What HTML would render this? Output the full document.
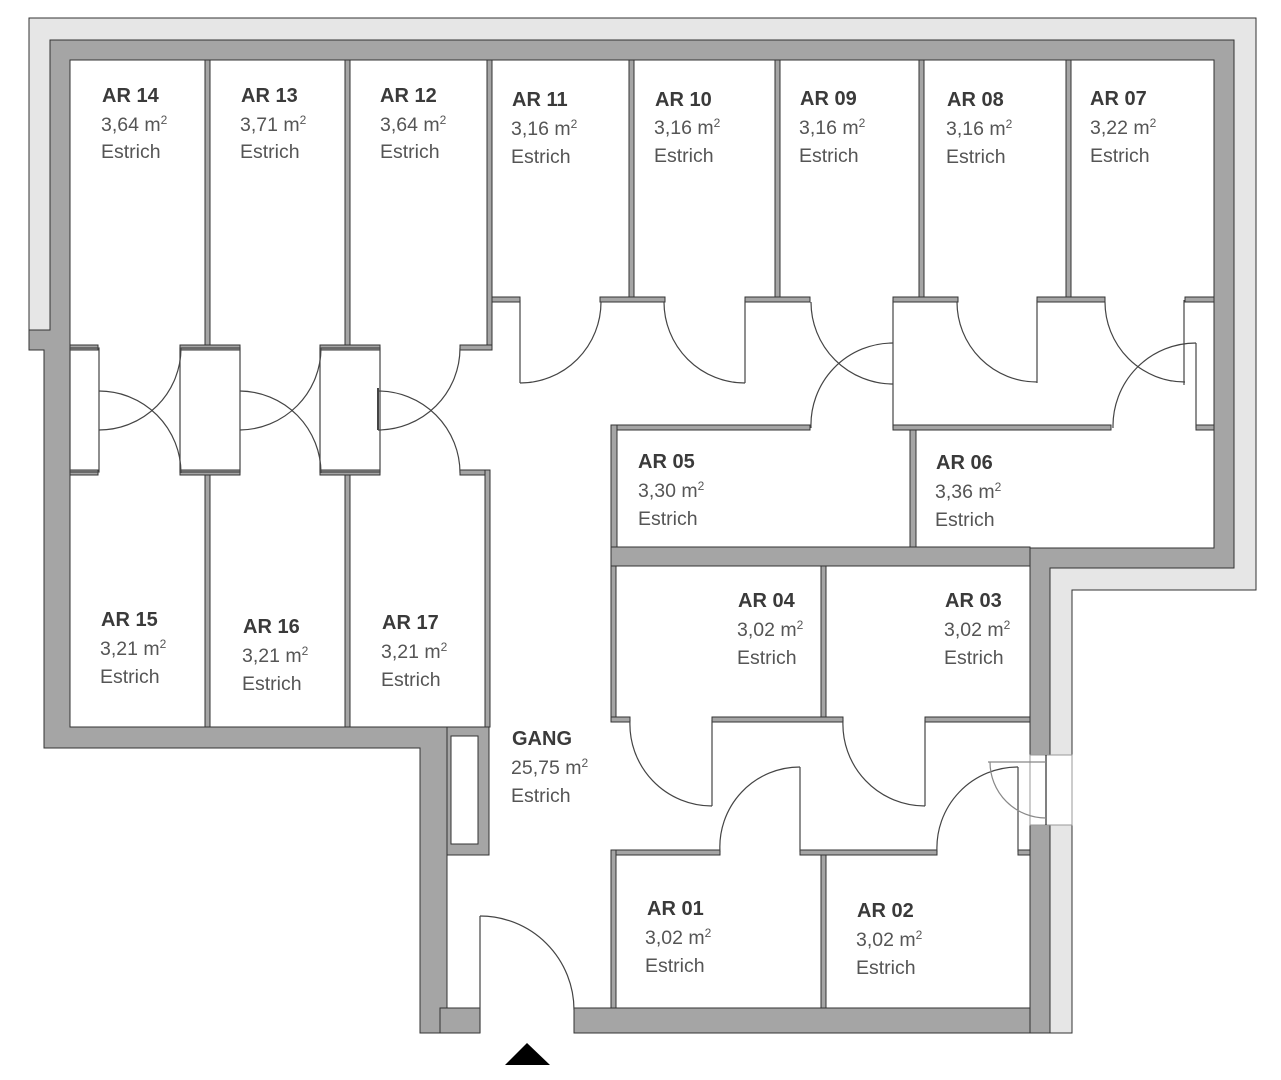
<!DOCTYPE html>
<html><head><meta charset="utf-8"><style>
html,body{margin:0;padding:0;background:#fff;}
svg{display:block}
.b{font:bold 20px "Liberation Sans",sans-serif;fill:#3a3a3a}
.n{font:19.5px "Liberation Sans",sans-serif;fill:#555}
.s{font-size:12px}
</style></head><body>
<svg width="1281" height="1080" viewBox="0 0 1281 1080" xmlns="http://www.w3.org/2000/svg">
<g stroke="#333" stroke-width="1">
<path d="M29 18 H1256 V590 H1072 V1033 H1050 V568 H1234 V40 H50 V330 H29 Z" fill="#e6e6e6"/>
<path d="M50 40 H1234 V568 H1050 V1033 H1030 V548 H1214 V60 H70 V727 H447 V1033 H420 V748 H44 V350 H29 V330 H50 Z" fill="#a5a5a5"/>
<rect x="574" y="1008" width="456" height="25" fill="#a5a5a5"/>
<rect x="440" y="1008" width="40" height="25" fill="#a5a5a5"/>
<rect x="1030" y="755" width="42" height="70" fill="#fff" stroke="#999"/>
<line x1="1046" y1="755" x2="1046" y2="825" stroke="#000"/>
<rect x="447" y="727" width="42" height="128" fill="#a5a5a5"/>
<rect x="451" y="736" width="27" height="108" fill="#fff"/>
<rect x="611" y="547" width="419" height="19" fill="#a5a5a5"/>
<g fill="#a5a5a5">
<rect x="205" y="60" width="5" height="288"/>
<rect x="345" y="60" width="5" height="288"/>
<rect x="487" y="60" width="5" height="288"/>
<rect x="629" y="60" width="5" height="240"/>
<rect x="775" y="60" width="5" height="240"/>
<rect x="919" y="60" width="5" height="240"/>
<rect x="1066" y="60" width="5" height="240"/>
<rect x="70" y="345" width="28" height="5"/>
<rect x="180" y="345" width="60" height="5"/>
<rect x="320" y="345" width="60" height="5"/>
<rect x="460" y="345" width="32" height="5"/>
<rect x="70" y="470" width="28" height="5"/>
<rect x="180" y="470" width="60" height="5"/>
<rect x="320" y="470" width="60" height="5"/>
<rect x="460" y="470" width="30" height="5"/>
<rect x="205" y="475" width="5" height="252"/>
<rect x="345" y="475" width="5" height="252"/>
<rect x="485" y="470" width="5" height="257"/>
<rect x="492" y="297" width="28" height="5"/>
<rect x="600" y="297" width="65" height="5"/>
<rect x="745" y="297" width="65" height="5"/>
<rect x="893" y="297" width="65" height="5"/>
<rect x="1037" y="297" width="68" height="5"/>
<rect x="1185" y="297" width="29" height="5"/>
<rect x="611" y="425" width="199" height="5"/>
<rect x="893" y="425" width="218" height="5"/>
<rect x="1196" y="425" width="18" height="5"/>
<rect x="611" y="425" width="6" height="122"/>
<rect x="910" y="430" width="6" height="117"/>
<rect x="611" y="566" width="5" height="154"/>
<rect x="821" y="566" width="5" height="154"/>
<rect x="611" y="717" width="19" height="5"/>
<rect x="712" y="717" width="131" height="5"/>
<rect x="925" y="717" width="105" height="5"/>
<rect x="611" y="850" width="109" height="5"/>
<rect x="800" y="850" width="137" height="5"/>
<rect x="1018" y="850" width="12" height="5"/>
<rect x="611" y="850" width="5" height="158"/>
<rect x="821" y="855" width="5" height="153"/>
</g>
</g>
<g fill="none" stroke="#444" stroke-width="1.2">
<rect x="70" y="348" width="29" height="124"/>
<rect x="180" y="348" width="60" height="124"/>
<rect x="320" y="348" width="60" height="124"/>
<path d="M99 391 A82 82 0 0 1 181 473"/>
<path d="M99 430 A82 82 0 0 0 181 348"/>
<path d="M240 391 A82 82 0 0 1 321 473"/>
<path d="M240 430 A82 82 0 0 0 321 348"/>
<path d="M378 391 A82 82 0 0 1 460 473"/>
<path d="M378 430 A82 82 0 0 0 460 348"/>
<line x1="378" y1="388" x2="378" y2="430" stroke-width="2"/>
<line x1="520" y1="300" x2="520" y2="383"/>
<path d="M520 383 A81 81 0 0 0 601 302"/>
<line x1="745" y1="300" x2="745" y2="383"/>
<path d="M664 302 A81 81 0 0 0 745 383"/>
<polyline points="893,300 893,428"/>
<path d="M811 302 A82 82 0 0 0 893 384"/>
<line x1="1037" y1="300" x2="1037" y2="383"/>
<path d="M957 302 A80 80 0 0 0 1037 382"/>
<line x1="1184" y1="300" x2="1184" y2="385"/>
<path d="M1105 302 A80 80 0 0 0 1185 382"/>
<line x1="1196" y1="343" x2="1196" y2="428"/>
<path d="M1113 428 A83 83 0 0 1 1196 343"/>
<path d="M811 428 A82 82 0 0 1 893 343"/>
<line x1="712" y1="720" x2="712" y2="806"/>
<path d="M630 720 A82 82 0 0 0 712 806"/>
<line x1="925" y1="720" x2="925" y2="806"/>
<path d="M843 720 A82 82 0 0 0 925 806"/>
<line x1="800" y1="767" x2="800" y2="852"/>
<path d="M720 852 A80 80 0 0 1 800 767"/>
<line x1="1018" y1="767" x2="1018" y2="852"/>
<path d="M937 852 A81 81 0 0 1 1018 767"/>
<path d="M988 762 H1046" stroke="#888"/>
<path d="M990 762 A56 56 0 0 0 1046 818" stroke="#888"/>
<line x1="480" y1="916" x2="480" y2="1033"/>
<path d="M480 916 A94 94 0 0 1 574 1010"/>
</g>
<polygon points="505,1065 527,1043 550,1065" fill="#000"/>
<g>
<text class="b" x="102" y="102">AR 14</text><text class="n" x="101" y="131">3,64 m<tspan class="s" dy="-7">2</tspan></text><text class="n" x="101" y="158">Estrich</text>
<text class="b" x="241" y="102">AR 13</text><text class="n" x="240" y="131">3,71 m<tspan class="s" dy="-7">2</tspan></text><text class="n" x="240" y="158">Estrich</text>
<text class="b" x="380" y="102">AR 12</text><text class="n" x="380" y="131">3,64 m<tspan class="s" dy="-7">2</tspan></text><text class="n" x="380" y="158">Estrich</text>
<text class="b" x="512" y="106">AR 11</text><text class="n" x="511" y="135">3,16 m<tspan class="s" dy="-7">2</tspan></text><text class="n" x="511" y="163">Estrich</text>
<text class="b" x="655" y="106">AR 10</text><text class="n" x="654" y="134">3,16 m<tspan class="s" dy="-7">2</tspan></text><text class="n" x="654" y="162">Estrich</text>
<text class="b" x="800" y="105">AR 09</text><text class="n" x="799" y="134">3,16 m<tspan class="s" dy="-7">2</tspan></text><text class="n" x="799" y="162">Estrich</text>
<text class="b" x="947" y="106">AR 08</text><text class="n" x="946" y="135">3,16 m<tspan class="s" dy="-7">2</tspan></text><text class="n" x="946" y="163">Estrich</text>
<text class="b" x="1090" y="105">AR 07</text><text class="n" x="1090" y="134">3,22 m<tspan class="s" dy="-7">2</tspan></text><text class="n" x="1090" y="162">Estrich</text>
<text class="b" x="638" y="468">AR 05</text><text class="n" x="638" y="497">3,30 m<tspan class="s" dy="-7">2</tspan></text><text class="n" x="638" y="525">Estrich</text>
<text class="b" x="936" y="469">AR 06</text><text class="n" x="935" y="498">3,36 m<tspan class="s" dy="-7">2</tspan></text><text class="n" x="935" y="526">Estrich</text>
<text class="b" x="738" y="607">AR 04</text><text class="n" x="737" y="636">3,02 m<tspan class="s" dy="-7">2</tspan></text><text class="n" x="737" y="664">Estrich</text>
<text class="b" x="945" y="607">AR 03</text><text class="n" x="944" y="636">3,02 m<tspan class="s" dy="-7">2</tspan></text><text class="n" x="944" y="664">Estrich</text>
<text class="b" x="101" y="626">AR 15</text><text class="n" x="100" y="655">3,21 m<tspan class="s" dy="-7">2</tspan></text><text class="n" x="100" y="683">Estrich</text>
<text class="b" x="243" y="633">AR 16</text><text class="n" x="242" y="662">3,21 m<tspan class="s" dy="-7">2</tspan></text><text class="n" x="242" y="690">Estrich</text>
<text class="b" x="382" y="629">AR 17</text><text class="n" x="381" y="658">3,21 m<tspan class="s" dy="-7">2</tspan></text><text class="n" x="381" y="686">Estrich</text>
<text class="b" x="512" y="745">GANG</text><text class="n" x="511" y="774">25,75 m<tspan class="s" dy="-7">2</tspan></text><text class="n" x="511" y="802">Estrich</text>
<text class="b" x="647" y="915">AR 01</text><text class="n" x="645" y="944">3,02 m<tspan class="s" dy="-7">2</tspan></text><text class="n" x="645" y="972">Estrich</text>
<text class="b" x="857" y="917">AR 02</text><text class="n" x="856" y="946">3,02 m<tspan class="s" dy="-7">2</tspan></text><text class="n" x="856" y="974">Estrich</text>
</g>
</svg>
</body></html>
